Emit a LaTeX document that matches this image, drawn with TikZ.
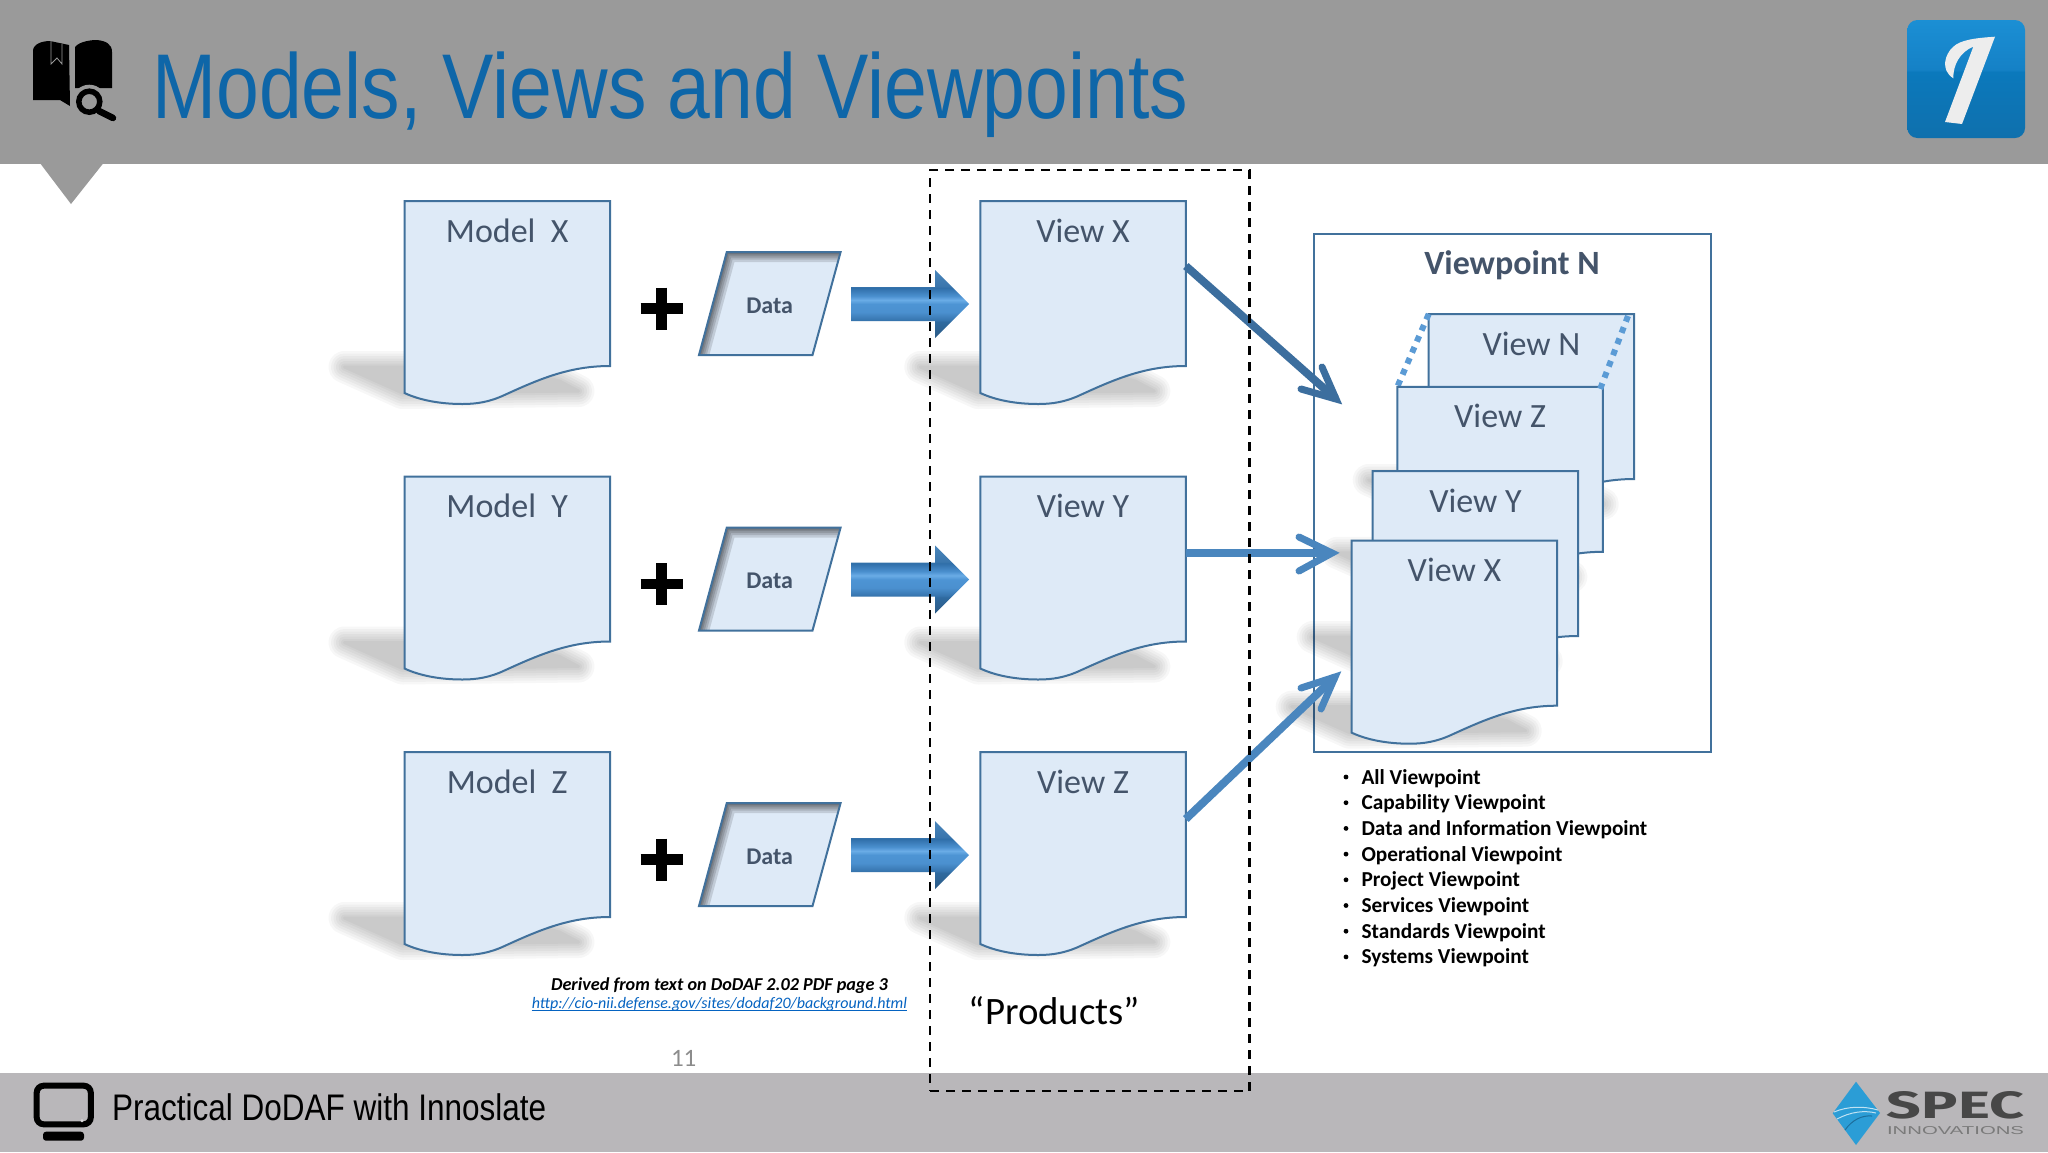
\documentclass[tikz,border=0pt]{standalone}
\usepackage{fontspec}
\setmainfont{Carlito}
\newfontfamily\arialf{Liberation Sans}
\newfontfamily\techf{Fira Sans}
\usetikzlibrary{calc}
\definecolor{docfill}{HTML}{DEEAF7}
\definecolor{docline}{HTML}{41719C}
\definecolor{slate}{HTML}{44546A}
\definecolor{hdr}{HTML}{9A9A9A}
\definecolor{ftr}{HTML}{B9B7BA}
\definecolor{ttl}{HTML}{0E66A8}
\definecolor{dots}{HTML}{5B9BD5}
\definecolor{logoa}{HTML}{1B8FD4}
\definecolor{logob}{HTML}{1581C6}
\definecolor{logoc}{HTML}{0B79BC}
\definecolor{logod}{HTML}{0F70AD}
\definecolor{diam}{HTML}{2B9DD6}
\definecolor{diamd}{HTML}{1C6E9C}
\definecolor{arrdark}{HTML}{3C6E9E}
\definecolor{arrmid}{HTML}{4A86BE}
\definecolor{linkc}{HTML}{0563C1}
\definecolor{sa}{HTML}{2C5A85}
\definecolor{sb}{HTML}{2F6A9F}
\definecolor{sc}{HTML}{3674AD}
\definecolor{sd}{HTML}{4B90CF}
\definecolor{se}{HTML}{4D94D4}
\definecolor{sf}{HTML}{6AACE6}
\definecolor{sg}{HTML}{4A8FCE}
\definecolor{sh}{HTML}{2F6EA8}
\definecolor{si}{HTML}{3A76AD}
\definecolor{sj}{HTML}{4A86BB}
\pgfdeclareverticalshading{barrowshade}{100bp}{
 color(0bp)=(sa); color(25bp)=(sa); color(37bp)=(sb); color(38bp)=(sc);
 color(44bp)=(sd); color(50bp)=(se); color(53bp)=(sf); color(56bp)=(sg);
 color(62bp)=(sh); color(63bp)=(si); color(75bp)=(sj); color(100bp)=(sj)}
\pgfdeclareverticalshading{logoshade}{100bp}{
 color(0bp)=(logod); color(25bp)=(logod); color(53bp)=(logoc); color(54bp)=(logob); color(75bp)=(logoa); color(100bp)=(logoa)}
\tikzset{
 x=1pt,y=-1pt,
 docbox/.style={rectangle,inner sep=0,outer sep=0,minimum width=205.5pt,minimum height=165pt,anchor=north west},
 doclabel/.style={anchor=base,inner sep=0,text=slate,font=\fontsize{34}{36}\selectfont},
 docshape/.style={fill=docfill,draw=docline,line width=2pt,line join=miter},
 datashape/.style={fill=docfill},
 dataline/.style={draw=docline,line width=2pt},
 datalabel/.style={anchor=base,inner sep=0,text=slate,font=\fontsize{24}{26}\selectfont\bfseries},
 plusmark/.style={line width=10.5pt,black},
 thinarrow/.style={line width=8pt,line join=miter,miter limit=10},
 barbs/.style={line width=7pt,line cap=round,line join=miter,miter limit=10},
 dashbox/.style={rectangle,draw=black,line width=2.3pt,dash pattern=on 9pt off 7pt,inner sep=0,outer sep=0,minimum width=319.5pt,minimum height=921pt,anchor=north west},
 vpbox/.style={rectangle,draw=docline,fill=white,line width=2pt,inner sep=0,outer sep=0,minimum width=397pt,minimum height=518.5pt,anchor=north west},
 listitem/.style={anchor=base west,inner sep=0,text=black,font=\fontsize{21.3}{24}\selectfont\bfseries},
}
\newcommand{\docshadow}[2]{%
 \foreach \w in {32,27,22,17,12,7,3}{%
  \begin{scope}[transparency group,opacity=.032]
  \path[shift={(#1,#2)},fill=black,draw=black,line width=\w pt,line join=round]
   (-60,166)--(100,166)--(155,180)--(174,190)--(-2,192)--cycle;
  \end{scope}}}
\newcommand{\docpage}[4]{%
 \docshadow{#2}{#3}
 \path[docshape,shift={(#2,#3)}] (0,0)--(205.5,0)--(205.5,165)
  .. controls (165,165) and (135,178) .. (100,194)
  .. controls (85,201) and (72,203) .. (58,203)
  .. controls (35,203) and (15,199) .. (0,192)--cycle;
 \node[docbox] (#1) at (#2,#3) {};
 \node[doclabel] (#1-t) at ($(#1.north)+(0,41)$) {#4};}
\begin{document}
\begin{tikzpicture}
\useasboundingbox (0,0) rectangle (2048,1152);
\fill[white] (0,0) rectangle (2048,1152);
% header and footer
\fill[hdr] (0,0) rectangle (2048,164);
\fill[hdr] (40.7,164)--(102.7,164)--(71,204)--cycle;
\fill[ftr] (0,1073) rectangle (2048,1152);
\node[anchor=base west,inner sep=0,text=ttl] (title) at (152,118) {\scalebox{0.836}[1]{\arialf\fontsize{92}{96}\selectfont Models, Views and Viewpoints}};
\node[anchor=base west,inner sep=0,text=black] (foot) at (112,1120) {\scalebox{0.851}[1]{\arialf\fontsize{37}{40}\selectfont Practical DoDAF with Innoslate}};
% book icon
\fill[black] (33,100)--(33,51) .. controls (33,44) and (42,41) .. (50,41)--(69,45)--(70,106)--(60,100)--cycle;
\fill[black] (75,47) .. controls (80,41) and (92,40) .. (97,40) .. controls (106,41) and (112,44) .. (112,52)--(112,88)--(75,88)--cycle;
\draw[hdr,line width=.8pt] (51,41)--(51,64)--(57,58)--(62,64)--(62,44);
\fill[hdr] (89.3,101.7) circle (17);
\draw[black,line width=5.5pt] (89.3,101.7) circle (10.5);
\draw[black,line width=6.5pt,line cap=round] (99,111)--(113,118);
% I logo
\shade[shading=logoshade,rounded corners=10pt] (1907.3,20) rectangle (2025,138);
\fill[white!93!black] (1995,36.7) .. controls (1975,38) and (1960,40) .. (1953,47) .. controls (1945,54) and (1940,70) .. (1953.3,78.3) .. controls (1953,65) and (1960,52) .. (1973.3,46.7)--(1945,122)--(1962,124)--cycle;
% monitor icon
\draw[black,line width=6pt,rounded corners=7pt] (36.7,1085.7) rectangle (90.8,1124.3);
\fill[black,rounded corners=3pt] (43,1131.7) rectangle (84,1140.7);
\fill[ftr!50!white] (82,1120.7) circle (1.6);
% SPEC logo
\fill[diam] (1856,1081.7)--(1880,1113)--(1856,1145)--(1832.7,1113.3)--cycle;
\draw[white!70!diam,line width=1pt] (1834,1112) .. controls (1848,1106) and (1864,1106) .. (1878,1110);
\draw[white!70!diam,line width=1pt] (1837,1119) .. controls (1850,1112) and (1864,1110) .. (1876,1113);
\draw[diamd,line width=1pt] (1845,1130) .. controls (1852,1120) and (1862,1115) .. (1872,1116);
\node[inner sep=0,text=black!72] (spec) at (1955.5,1105.5) {\resizebox{137pt}{27pt}{\techf\bfseries SPEC}};
\node[inner sep=0,text=black!52] (innov) at (1955.5,1131) {\resizebox{137pt}{8pt}{\arialf INNOVATIONS}};
% viewpoint box
\node[vpbox] (vp) at (1313.7,233.6) {};
\node[anchor=base,inner sep=0,text=slate,font=\fontsize{34}{36}\selectfont\bfseries] (vpt) at (1512,274) {Viewpoint N};
% rows
\foreach \nm/\yy in {X/201,Y/476.5,Z/752}{
 \docpage{model\nm}{404.5}{\yy}{Model\ \ \nm}
 \docpage{view\nm}{980.3}{\yy}{View \nm}
 \draw[plusmark] (640.5,\yy+107.5)--(682.5,\yy+107.5);
 \draw[plusmark] (661.5,\yy+86.5)--(661.5,\yy+128.5);
 \begin{scope}[shift={(0,\yy)}]
  \path[datashape] (726.8,51)--(840.6,51)--(812.5,154)--(699,154)--cycle;
  \begin{scope}
   \clip (726.8,51)--(840.6,51)--(812.5,154)--(699,154)--cycle;
   \foreach \w in {20,15,11,7,4}
    \draw[black,opacity=.13,line width=\w pt,line join=miter] (699,154)--(726.8,51)--(840.6,51);
  \end{scope}
  \path[dataline] (726.8,51)--(840.6,51)--(812.5,154)--(699,154)--cycle;
  \shade[shading=barrowshade] (851,86)--(935,86)--(935,69)--(969,103)--(935,137)--(935,120)--(851,120)--cycle;
 \end{scope}
 \node[datalabel] (data\nm) at (769.6,\yy+112) {Data};
}
% stack of views
\docpage{stackN}{1428.7}{314}{View N}
\draw[dots,line width=6pt,dash pattern=on 6pt off 6pt] (stackN.north west)--(1397.3,386.8);
\docpage{stackZ}{1397.3}{386.8}{View Z}
\draw[dots,line width=6pt,dash pattern=on 6pt off 6pt] (1628,316)--(1599,392);
\docpage{stackY}{1372.7}{471}{View Y}
\docpage{stackX}{1351.7}{540.7}{View X}
% connectors
\coordinate (vA) at (1336,399); \coordinate (vB) at (1332,553); \coordinate (vC) at (1335,677);
\draw[thinarrow,arrdark] ($(viewX.north east)+(0,65)$)--(vA);
\draw[barbs,arrdark] (1322,367)--(vA)--(1301,389);
\draw[thinarrow,arrmid] ($(viewY.north east)+(0,76.5)$)--(vB);
\draw[barbs,arrmid] (1299,537)--(vB)--(1299,571);
\draw[thinarrow,arrmid] ($(viewZ.north east)+(0,67)$)--(vC);
\draw[barbs,arrmid] (1301,688)--(vC)--(1321,709);
% dashed box
\node[dashbox] (products) at (930,170) {};
\node[anchor=base,inner sep=0,text=black,font=\fontsize{38.8}{42}\selectfont] (prodt) at (1054.5,1024) {“Products”};
% list
\foreach \t [count=\i from 0] in {All Viewpoint,Capability Viewpoint,Data and Information Viewpoint,Operational Viewpoint,Project Viewpoint,Services Viewpoint,Standards Viewpoint,Systems Viewpoint}{
 \node[listitem] (item\i) at (1361.3,784+25.7*\i) {\t};
 \fill[black] (1346,777+25.7*\i) circle (2.4);
}
% source
\node[anchor=base,inner sep=0,text=black,font=\fontsize{18.2}{20}\selectfont\bfseries\itshape] (src) at (719.5,990.5) {Derived from text on DoDAF 2.02 PDF page 3};
\node[anchor=base,inner sep=0,text=linkc,font=\fontsize{16}{20}\selectfont\itshape] (link) at (719.5,1008) {http://cio-nii.defense.gov/sites/dodaf20/background.html};
\draw[linkc,line width=1pt] ($(link.base west)+(0,2)$)--($(link.base east)+(0,2)$);
\node[anchor=base,inner sep=0,text=black!45,font=\fontsize{25}{28}\selectfont] (pg) at (683.7,1066) {11};
\end{tikzpicture}
\end{document}
